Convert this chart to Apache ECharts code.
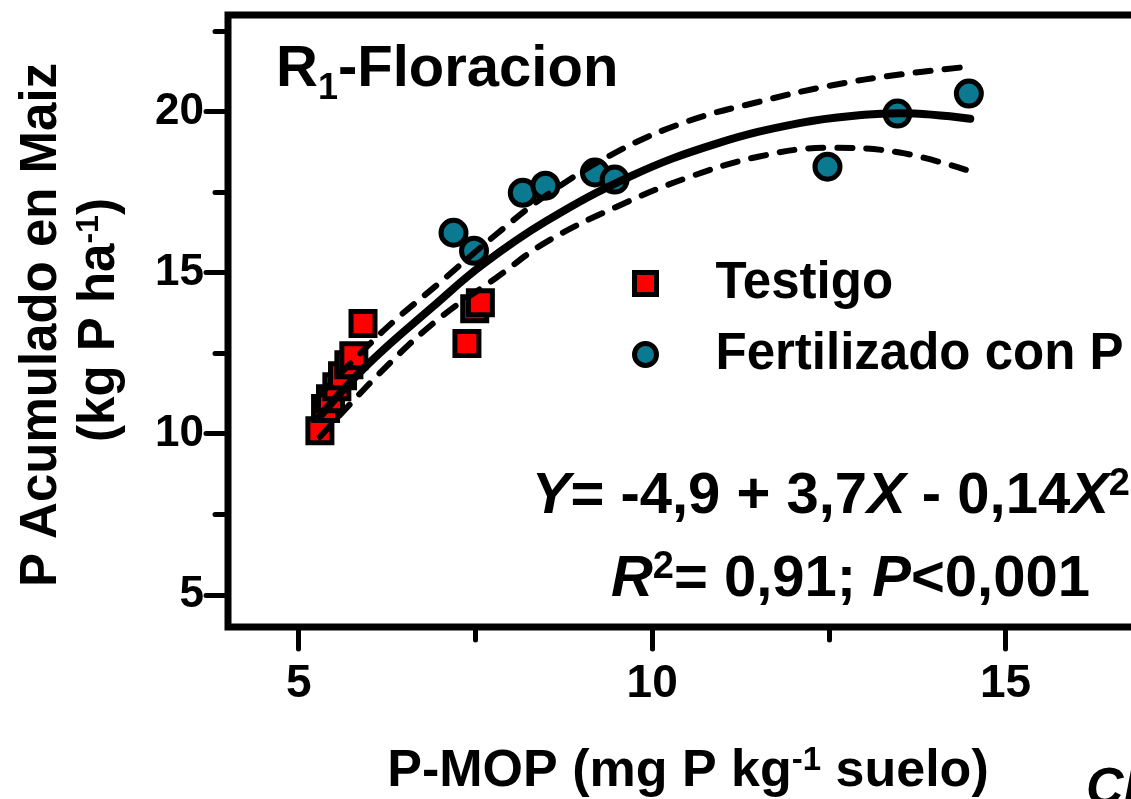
<!DOCTYPE html>
<html>
<head>
<meta charset="utf-8">
<script src="https://cdn.jsdelivr.net/npm/echarts@6/dist/echarts.min.js"></script>
<style>
html, body { margin: 0; padding: 0; background: #fff; }
#main { width: 1131px; height: 799px; }
</style>
</head>
<body>
<div id="main"></div>
<script>
// Testigo (cuadrados rojos)
var testigoX = [5.30, 5.38, 5.45, 5.54, 5.62, 5.71, 5.78, 5.91, 7.38, 7.49, 7.57]
var testigoY = [10.09, 10.78, 11.09, 11.46, 11.80, 12.14, 12.42, 13.42, 12.80, 13.88, 14.07]

// Fertilizado con P (circulos)
var fertX = [7.19, 7.48, 8.17, 8.49, 9.19, 9.47, 12.48, 13.47, 14.48]
var fertY = [16.24, 15.68, 17.48, 17.70, 18.11, 17.89, 18.29, 19.94, 20.56]

// curva ajustada
var fitX = [5.3, 6.0, 6.9, 7.6, 8.5, 9.7, 10.9, 12.1, 13.0, 13.5, 14.5]
var fitY = [10.55, 12.2, 13.95, 15.25, 16.6, 18.0, 19.0, 19.65, 19.9, 19.95, 19.78]

// bandas de confianza
var bandX = [5.3, 6.2, 7.0, 7.8, 8.5, 9.5, 10.5, 11.5, 12.5, 13.5, 14.5]
var upperY = [11.2, 13.2, 14.7, 16.2, 17.4, 18.75, 19.7, 20.3, 20.8, 21.15, 21.4]
var lowerY = [9.9, 12.0, 13.6, 14.85, 15.95, 17.05, 17.95, 18.6, 18.88, 18.73, 18.15]

// ticks
var xMajor = [5, 10, 15]
var xMinor = [7.5, 12.5]
var yMajor = [5, 10, 15, 20]
var yMinor = [7.5, 12.5, 17.5, 22.5]

function pairs(xs, ys) {
    return xs.map(function (x, i) { return [x, ys[i]] })
}

window.onload = function () {
    var chart = echarts.init(document.getElementById('main'))
    var font = "'Liberation Sans', Arial, sans-serif"
    var tickStyle = { color: '#000', width: 5, cap: 'round' }
    var big = 58

    var option = {
        animation: false,
        backgroundColor: '#fff',
        grid: {
            left: 228, top: 15, width: 919, height: 612,
            outerBoundsMode: 'none', containLabel: false,
            show: true, borderColor: '#000', borderWidth: 7
        },
        xAxis: [
            {
                type: 'value', min: 4, max: 17, position: 'bottom',
                axisLine: { show: false, onZero: false },
                splitLine: { show: false },
                axisTick: { show: true, customValues: xMajor, length: 22, lineStyle: tickStyle },
                axisLabel: {
                    customValues: xMajor, margin: 34, color: '#000',
                    fontSize: 46, fontWeight: 'bold',
                    fontFamily: "'Liberation Sans Narrow', " + font
                }
            },
            {
                type: 'value', min: 4, max: 17, position: 'bottom', offset: 0,
                axisLine: { show: false, onZero: false },
                splitLine: { show: false },
                axisLabel: { show: false },
                axisTick: { show: true, customValues: xMinor, length: 13, lineStyle: tickStyle }
            }
        ],
        yAxis: [
            {
                type: 'value', min: 4, max: 23, position: 'left',
                axisLine: { show: false, onZero: false },
                splitLine: { show: false },
                axisTick: { show: true, customValues: yMajor, length: 22, lineStyle: tickStyle },
                axisLabel: {
                    customValues: yMajor, margin: 24, color: '#000',
                    fontSize: 44, fontWeight: 'bold', fontFamily: font
                }
            },
            {
                type: 'value', min: 4, max: 23, position: 'left', offset: 0,
                axisLine: { show: false, onZero: false },
                splitLine: { show: false },
                axisLabel: { show: false },
                axisTick: { show: true, customValues: yMinor, length: 13, lineStyle: tickStyle }
            }
        ],
        legend: {
            orient: 'vertical',
            left: 627, top: 253,
            itemGap: 20, itemWidth: 22, itemHeight: 22,
            itemStyle: { borderColor: '#000', borderWidth: 5 },
            data: ['Testigo', 'Fertilizado con P'],
            formatter: function (name) { return '{t|' + name + '}' },
            textStyle: {
                color: '#000', fontSize: 51, fontWeight: 'bold', fontFamily: font,
                rich: { t: { fontSize: 51, fontWeight: 'bold', fontFamily: font, lineHeight: 50, padding: [0, 0, 0, 54] } }
            }
        },
        graphic: [
            // titulo R1-Floracion en tres partes (subindice)
            {
                type: 'text', x: 276, y: 70,
                style: { text: 'R', verticalAlign: 'middle', fontSize: big, fontWeight: 'bold', fontFamily: font, fill: '#000' }
            },
            {
                type: 'text', x: 318, y: 89,
                style: { text: '1', verticalAlign: 'middle', fontSize: 36, fontWeight: 'bold', fontFamily: font, fill: '#000' }
            },
            {
                type: 'text', x: 338, y: 70,
                style: { text: '-Floracion', verticalAlign: 'middle', fontSize: big, fontWeight: 'bold', fontFamily: font, fill: '#000' }
            },
            {
                type: 'text', x: 1130, y: 497,
                style: {
                    text: '{i|Y}{a|= -4,9 + 3,7}{i|X}{a| - 0,14}{i|X}{p|2}',
                    align: 'right', verticalAlign: 'middle',
                    rich: {
                        a: { fontSize: big, fontWeight: 'bold', fontFamily: font, fill: '#000', lineHeight: 62 },
                        i: { fontSize: big, fontWeight: 'bold', fontStyle: 'italic', fontFamily: font, fill: '#000', lineHeight: 62 },
                        p: { fontSize: 38, fontWeight: 'bold', fontFamily: font, fill: '#000', lineHeight: 38, verticalAlign: 'top' }
                    }
                }
            },
            {
                type: 'text', x: 1090, y: 580,
                style: {
                    text: '{i|R}{p|2}{a|= 0,91; }{i|P}{a|<0,001}',
                    align: 'right', verticalAlign: 'middle',
                    rich: {
                        a: { fontSize: big, fontWeight: 'bold', fontFamily: font, fill: '#000', lineHeight: 62 },
                        i: { fontSize: big, fontWeight: 'bold', fontStyle: 'italic', fontFamily: font, fill: '#000', lineHeight: 62 },
                        p: { fontSize: 38, fontWeight: 'bold', fontFamily: font, fill: '#000', lineHeight: 38, verticalAlign: 'top' }
                    }
                }
            },
            {
                type: 'text', x: 42, y: 325, rotation: Math.PI / 2,
                style: {
                    text: 'P Acumulado en Maiz',
                    align: 'center', verticalAlign: 'middle',
                    fontSize: 51, fontWeight: 'bold', fontFamily: font, fill: '#000'
                }
            },
            {
                type: 'text', x: 100, y: 320, rotation: Math.PI / 2,
                style: {
                    text: '{a|(kg P ha}{p|-1}{a|)}',
                    align: 'center', verticalAlign: 'middle',
                    rich: {
                        a: { fontSize: 51, fontWeight: 'bold', fontFamily: font, fill: '#000', lineHeight: 54 },
                        p: { fontSize: 32, fontWeight: 'bold', fontFamily: font, fill: '#000', lineHeight: 32, verticalAlign: 'top' }
                    }
                }
            },
            {
                type: 'text', x: 688, y: 772,
                style: {
                    text: '{a|P-MOP (mg P kg}{p|-1}{a| suelo)}',
                    align: 'center', verticalAlign: 'middle',
                    rich: {
                        a: { fontSize: 52, fontWeight: 'bold', fontFamily: font, fill: '#000', lineHeight: 56 },
                        p: { fontSize: 33, fontWeight: 'bold', fontFamily: font, fill: '#000', lineHeight: 33, verticalAlign: 'top' }
                    }
                }
            },
            {
                type: 'text', x: 1086, y: 764,
                style: {
                    text: 'Cl',
                    fontSize: 52, fontWeight: 'bold', fontStyle: 'italic', fontFamily: font, fill: '#000'
                }
            }
        ],
        series: [
            {
                name: 'Testigo', type: 'scatter', z: 2,
                symbol: 'rect', symbolSize: 24,
                itemStyle: { color: '#ff0000', borderColor: '#000', borderWidth: 5, opacity: 1 },
                data: pairs(testigoX, testigoY)
            },
            {
                name: 'Fertilizado con P', type: 'scatter', z: 2,
                symbol: 'circle', symbolSize: 25,
                itemStyle: { color: '#0b7a91', borderColor: '#000', borderWidth: 5, opacity: 1 },
                data: pairs(fertX, fertY)
            },
            {
                name: 'ajuste', type: 'line', z: 3, smooth: 0.4, showSymbol: false, symbol: 'none',
                lineStyle: { color: '#000', width: 8, cap: 'round' },
                data: pairs(fitX, fitY)
            },
            {
                name: 'superior', type: 'line', z: 3, smooth: 0.4, showSymbol: false, symbol: 'none',
                lineStyle: { color: '#000', width: 6, type: [15, 14], cap: 'round' },
                data: pairs(bandX, upperY)
            },
            {
                name: 'inferior', type: 'line', z: 3, smooth: 0.4, showSymbol: false, symbol: 'none',
                lineStyle: { color: '#000', width: 6, type: [15, 14], cap: 'round' },
                data: pairs(bandX, lowerY)
            }
        ]
    }

    chart.setOption(option)
}
</script>
</body>
</html>
